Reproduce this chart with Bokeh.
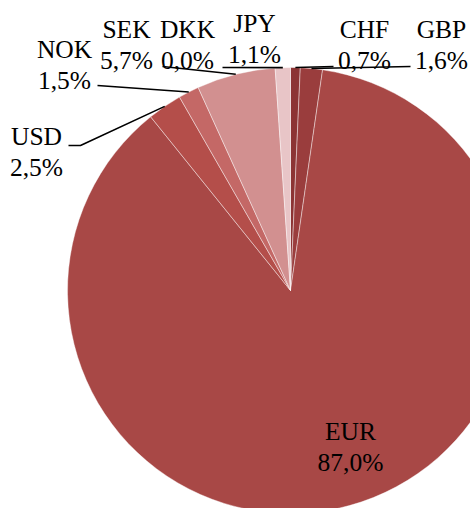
import math
from bokeh.plotting import figure
from bokeh.models import ColumnDataSource, Range1d
from bokeh.core.properties import value
from bokeh.embed import file_html
from bokeh.resources import INLINE

# data (clockwise from 12 o'clock)
currencies = ["CHF", "GBP", "EUR", "USD", "NOK", "SEK", "DKK", "JPY"]
shares = [0.7, 1.6, 87.0, 2.5, 1.5, 5.7, 0.0, 1.1]
labels = ["0,7%", "1,6%", "87,0%", "2,5%", "1,5%", "5,7%", "0,0%", "1,1%"]
colors = ["#8C3434", "#9A3D3D", "#A84846", "#B44E4A", "#C46866", "#D29090", "#D9A9A9", "#E8C5C7"]

W, H = 470, 508
CX, CY, R = 290, H - 290, 223
FONT = value("Liberation Serif")
FSIZE = "25.5px"

total = sum(shares)
starts, ends, mids = [], [], []
acc = 0.0
for s in shares:
    a0 = math.pi / 2 - 2 * math.pi * acc / total
    acc += s
    a1 = math.pi / 2 - 2 * math.pi * acc / total
    starts.append(a0)
    ends.append(a1)
    mids.append((a0 + a1) / 2)

p = figure(width=W, height=H, output_backend="svg", toolbar_location=None,
           x_range=Range1d(0, W), y_range=Range1d(0, H), min_border=0)
p.axis.visible = False
p.grid.visible = False
p.outline_line_color = None
p.background_fill_color = "white"
p.border_fill_color = "white"

keep = [i for i, s in enumerate(shares) if s > 0]
src = ColumnDataSource(dict(start=[starts[i] for i in keep], end=[ends[i] for i in keep],
                            color=[colors[i] for i in keep]))
p.wedge(x=CX, y=CY, radius=R, start_angle="start", end_angle="end", direction="clock",
        fill_color="color", line_color="white", line_width=0.6, line_alpha=0.7, source=src)

# label layout (pixel positions: center x, vertical middle of first line)
label_pos = {
    "CHF": (364, 29), "GBP": (441, 29), "EUR": (350, 431), "USD": (36, 136),
    "NOK": (64, 49), "SEK": (126, 29), "DKK": (187, 29), "JPY": (254, 23),
}
line_gap = 31
# leader line label-side anchor points (pixel)
leader_anchor = {
    "CHF": [(333, 66)], "GBP": [(410, 66)], "USD": [(68, 145), (80, 145)],
    "NOK": [(97, 85)], "SEK": [(162, 66)], "JPY": [(222, 67)],
}

for i, c in enumerate(currencies):
    x, y = label_pos[c]
    p.text(x=[x], y=[H - y], text=[c], text_font=FONT,
           text_font_size=FSIZE, text_align="center", text_baseline="middle",
           text_color="black")
    p.text(x=[x], y=[H - y - line_gap], text=[labels[i]], text_font=FONT,
           text_font_size=FSIZE, text_align="center", text_baseline="middle",
           text_color="black")
    if c in leader_anchor:
        pts = list(leader_anchor[c])
        px = CX + R * math.cos(mids[i])
        py = CY + R * math.sin(mids[i])
        xs = [q[0] for q in pts] + [px]
        ys = [H - q[1] for q in pts] + [py]
        p.line(xs, ys, line_color="black", line_width=1.6)

open("out.html", "w").write(file_html(p, INLINE))
